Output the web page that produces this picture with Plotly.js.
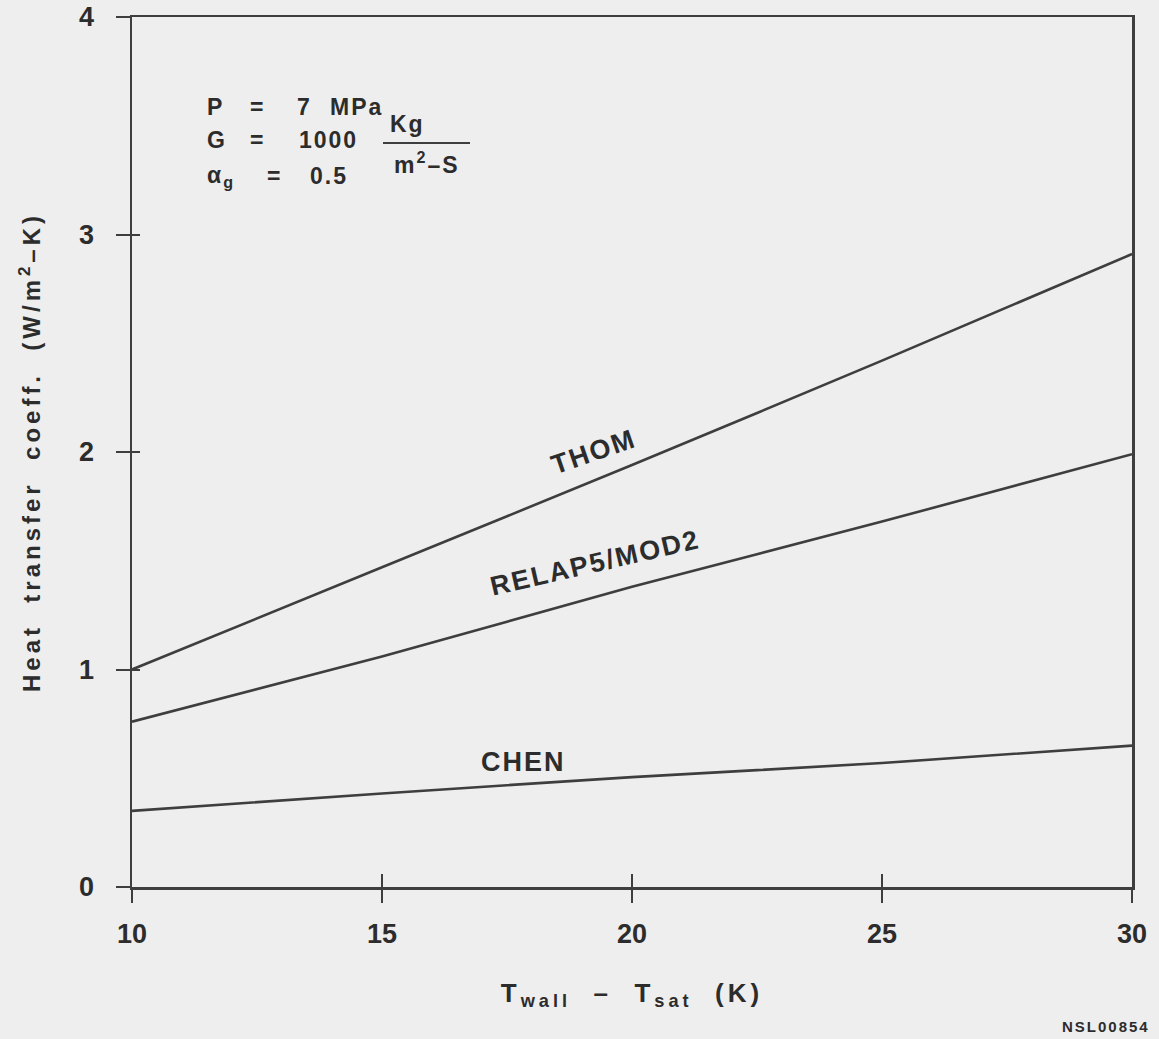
<!DOCTYPE html>
<html>
<head>
<meta charset="utf-8">
<script src="https://cdn.plot.ly/plotly-3.0.1.min.js"></script>
<style>
html,body{margin:0;padding:0;background:#eeeeee;}
#chart{width:1159px;height:1039px;}
.annotation-text{letter-spacing:2px;}
.ytitle{letter-spacing:4px;}
.xtitle{letter-spacing:4px;}
</style>
</head>
<body>
<div id="chart"></div>
<script>
// Data
const dT = [10, 15, 20, 25, 30];
const thom = [1.00, 1.47, 1.94, 2.42, 2.91];
const relap = [0.76, 1.06, 1.38, 1.68, 1.99];
const chen = [0.35, 0.43, 0.505, 0.57, 0.65];
const seriesNames = ["THOM", "RELAP5/MOD2", "CHEN"];
const xTicks = [10, 15, 20, 25, 30];
const yTicks = [0, 1, 2, 3, 4];

const lineStyle = {color: "#3e3e3e", width: 2.6, shape: "spline", smoothing: 0.6};
const FONT = "Liberation Sans, Arial, sans-serif";
const TXT = "#2c2c2c";

const traces = [
  {x: dT, y: thom, name: seriesNames[0], mode: "lines", line: lineStyle},
  {x: dT, y: relap, name: seriesNames[1], mode: "lines", line: lineStyle},
  {x: dT, y: chen, name: seriesNames[2], mode: "lines", line: lineStyle},
  // overlay trace for inward halves of the tick marks
  {x: dT, y: chen, xaxis: "x2", yaxis: "y2", mode: "lines", line: {width: 0}, hoverinfo: "skip", showlegend: false}
];

const W = 1159, H = 1039, L = 132, R = 27, T = 17, B = 152;
function px(x){ return (x - L) / (W - L - R); }
function py(y){ return (H - B - y) / (H - T - B); }

function txt(x, y, s, size, anchor){
  return {x: px(x), y: py(y), xref: "paper", yref: "paper", xanchor: anchor || "left", yanchor: "middle",
          text: s, showarrow: false, font: {family: FONT, size: size || 23, color: TXT, weight: "bold"}};
}

const labelFont = {family: FONT, size: 27, color: TXT, weight: "bold"};

const layout = {
  width: W, height: H,
  paper_bgcolor: "#eeeeee",
  plot_bgcolor: "#eeeeee",
  showlegend: false,
  margin: {l: L, r: R, t: T, b: B},
  font: {family: FONT, color: TXT},
  xaxis: {
    range: [10, 30], tickvals: xTicks, ticktext: xTicks.map(String),
    ticks: "outside", ticklen: 13, tickwidth: 2, tickcolor: "#3e3e3e",
    ticklabelstandoff: 8,
    showline: true, linecolor: "#3e3e3e", linewidth: 2.5, mirror: true,
    showgrid: false, zeroline: false,
    tickfont: {family: FONT, size: 27, color: TXT, weight: "bold"},
    title: {text: "T<sub>wall</sub>  –  T<sub>sat</sub>  (K)", font: {family: FONT, size: 26, color: TXT, weight: "bold"}, standoff: 36}
  },
  yaxis: {
    range: [0, 4], tickvals: yTicks, ticktext: yTicks.map(String),
    ticks: "outside", ticklen: 14, tickwidth: 2, tickcolor: "#3e3e3e",
    ticklabelstandoff: 16,
    showline: true, linecolor: "#3e3e3e", linewidth: 2.5, mirror: true,
    showgrid: false, zeroline: false,
    tickfont: {family: FONT, size: 27, color: TXT, weight: "bold"},
    title: {text: "Heat  transfer  coeff.  (W/m<sup>2</sup>–K)", font: {family: FONT, size: 24, color: TXT, weight: "bold"}, standoff: 32}
  },
  xaxis2: {
    overlaying: "x", range: [10, 30], tickvals: xTicks, showticklabels: false,
    ticks: "inside", ticklen: 13, tickwidth: 2, tickcolor: "#3e3e3e",
    showgrid: false, zeroline: false, showline: false
  },
  yaxis2: {
    overlaying: "y", range: [0, 4], tickvals: yTicks, showticklabels: false,
    ticks: "inside", ticklen: 8, tickwidth: 2, tickcolor: "#3e3e3e",
    showgrid: false, zeroline: false, showline: false
  },
  annotations: [
    {x: 19.22, y: 2.0, xref: "x", yref: "y", text: seriesNames[0], showarrow: false,
     textangle: -19, font: labelFont},
    {x: 19.25, y: 1.49, xref: "x", yref: "y", text: seriesNames[1], showarrow: false,
     textangle: -13, font: labelFont},
    {x: 17.82, y: 0.575, xref: "x", yref: "y", text: seriesNames[2], showarrow: false,
     textangle: 0, font: labelFont},
    txt(205, 107, "P"), txt(248, 107, "="), txt(295, 107, "7"), txt(328, 107, "MPa"),
    txt(205, 140, "G"), txt(248, 140, "="), txt(297, 140, "1000"),
    txt(205, 176, "α<sub>g</sub>"), txt(265, 176, "="), txt(308, 176, "0.5"),
    txt(407, 124, "Kg", 23, "center"),
    txt(427, 163, "m<sup>2</sup>–S", 23, "center"),
    {x: px(1152), y: py(1026), xref: "paper", yref: "paper", xanchor: "right", yanchor: "middle",
     text: "NSL00854", showarrow: false, font: {family: FONT, size: 15, color: TXT, weight: "bold"}}
  ],
  shapes: [
    {type: "line", xref: "paper", yref: "paper", x0: px(383), x1: px(470), y0: py(143), y1: py(143),
     line: {color: "#3e3e3e", width: 2}}
  ]
};

Plotly.newPlot("chart", traces, layout, {staticPlot: true, displayModeBar: false});
</script>
</body>
</html>
